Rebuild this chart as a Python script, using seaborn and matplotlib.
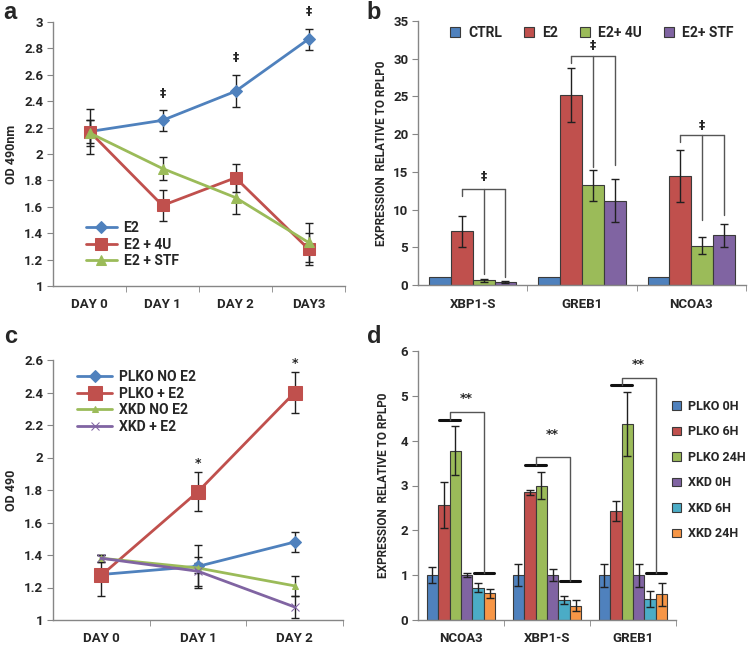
import pandas as pd
import matplotlib
matplotlib.use('Agg')
import matplotlib.pyplot as plt
import seaborn as sns

# ---- panel a: OD 490nm over days ----
days_a = ['DAY 0', 'DAY 1', 'DAY 2', 'DAY3']
e2_a = [2.17, 2.255, 2.475, 2.87]
e2_a_err = [0.17, 0.08, 0.12, 0.08]
e2_4u_a = [2.17, 1.61, 1.82, 1.28]
e2_4u_a_err = [0.09, 0.12, 0.105, 0.12]
e2_stf_a = [2.16, 1.89, 1.67, 1.33]
e2_stf_a_err = [0.1, 0.087, 0.125, 0.15]
sig_a_days = ['DAY 1', 'DAY 2', 'DAY3']
sig_a_y = [2.46, 2.73, 3.08]

# ---- panel b: expression relative to RPLP0 ----
genes_b = ['XBP1-S', 'GREB1', 'NCOA3']
groups_b = ['CTRL', 'E2', 'E2+ 4U', 'E2+ STF']
vals_b = {
    'CTRL': [1, 1, 1],
    'E2': [7.1, 25.2, 14.5],
    'E2+ 4U': [0.6, 13.2, 5.2],
    'E2+ STF': [0.4, 11.2, 6.6],
}
errs_b = {
    'CTRL': [0, 0, 0],
    'E2': [2.05, 3.6, 3.45],
    'E2+ 4U': [0.25, 2.1, 1.12],
    'E2+ STF': [0.12, 2.8, 1.5],
}
brk_b_top = [12.7, 30.3, 19.9]
brk_b_left = [11.8, 29.4, 19.0]
brk_b_mid = [1.5, 15.7, 8.6]
brk_b_right = [1.0, 15.9, 9.3]
sig_b_y = [14.4, 31.7, 21.2]

# ---- panel c: OD 490 over days ----
days_c = ['DAY 0', 'DAY 1', 'DAY 2']
plko_no = [1.28, 1.33, 1.48]
plko_no_err = [0.02, 0.13, 0.06]
plko_e2 = [1.275, 1.79, 2.40]
plko_e2_err = [0.125, 0.12, 0.125]
xkd_no = [1.38, 1.32, 1.21]
xkd_no_err = [0.02, 0.03, 0.06]
xkd_e2 = [1.38, 1.30, 1.08]
xkd_e2_err = [0.02, 0.09, 0.065]
sig_c_days = ['DAY 1', 'DAY 2']
sig_c_y = [1.96, 2.58]

# ---- panel d: expression relative to RPLP0 ----
genes_d = ['NCOA3', 'XBP1-S', 'GREB1']
groups_d = ['PLKO 0H', 'PLKO 6H', 'PLKO 24H', 'XKD 0H', 'XKD 6H', 'XKD 24H']
vals_d = {
    'PLKO 0H': [1, 1, 1],
    'PLKO 6H': [2.57, 2.85, 2.43],
    'PLKO 24H': [3.78, 3.0, 4.37],
    'XKD 0H': [1, 1, 1],
    'XKD 6H': [0.72, 0.45, 0.47],
    'XKD 24H': [0.6, 0.32, 0.57],
}
errs_d = {
    'PLKO 0H': [0.18, 0.25, 0.26],
    'PLKO 6H': [0.51, 0.06, 0.22],
    'PLKO 24H': [0.54, 0.3, 0.72],
    'XKD 0H': [0.04, 0.13, 0.26],
    'XKD 6H': [0.1, 0.09, 0.18],
    'XKD 24H': [0.1, 0.13, 0.26],
}
brk_d_left = [4.47, 3.46, 5.24]
brk_d_top = [4.65, 3.64, 5.40]
brk_d_right = [1.05, 0.86, 1.05]
sig_d_y = [4.95, 4.13, 5.69]

blue, red, green, purple, cyan, orange = ('#4F81BD', '#C0504D', '#9BBB59',
                                          '#8064A2', '#4BACC6', '#F79646')

sns.set_style('white')
plt.rcParams['font.family'] = ['Roboto', 'DejaVu Sans']
plt.rcParams['font.weight'] = 'bold'
plt.rcParams['axes.labelweight'] = 'bold'

W, H = 748, 646
fig = plt.figure(figsize=(W / 100, H / 100), dpi=100)


def px_axes(left, top, right, bottom):
    return fig.add_axes([left / W, 1 - bottom / H, (right - left) / W,
                         (bottom - top) / H])


def style_axes(ax, n):
    for s in ['top', 'right']:
        ax.spines[s].set_visible(False)
    for s in ['left', 'bottom']:
        ax.spines[s].set_color('#868686')
        ax.spines[s].set_linewidth(1)
    ax.set_xlim(-0.5, n - 0.5)
    ax.set_xticks(range(n))
    ax.set_xticks([i + 0.5 for i in range(n)], minor=True)
    ax.tick_params(axis='x', which='major', length=0, pad=9, labelsize=9.5)
    ax.tick_params(axis='x', which='minor', length=4, color='#868686',
                   direction='out', bottom=True)
    ax.tick_params(axis='y', length=4, color='#868686', direction='out',
                   left=True, labelsize=9.5, pad=3)
    ax.set_xlabel('')


def line_panel(ax, days, series, sig_days, sig_y, sig_char):
    for vals, errs, color, marker, ms, lab in series:
        sns.lineplot(x=days, y=vals, ax=ax, color=color, marker=marker,
                     markersize=ms, markeredgecolor=color, linewidth=2,
                     label=lab, sort=False)
        ax.errorbar(days, vals, yerr=errs, fmt='none', ecolor='#202020',
                    elinewidth=1, capsize=3, capthick=1, zorder=1)
    for d, y in zip(sig_days, sig_y):
        ax.text(days.index(d), y, sig_char, ha='center', va='center',
                fontsize=9, family='DejaVu Sans', fontweight='bold',
                clip_on=False)


# panel a
ax = px_axes(53, 22, 345, 286)
line_panel(ax, days_a, [
    (e2_a, e2_a_err, blue, 'D', 6, 'E2'),
    (e2_4u_a, e2_4u_a_err, red, 's', 9, 'E2 + 4U'),
    (e2_stf_a, e2_stf_a_err, green, '^', 7, 'E2 + STF'),
], sig_a_days, sig_a_y, '‡')
style_axes(ax, len(days_a))
ax.set_ylim(1, 3)
ax.set_yticks([1, 1.2, 1.4, 1.6, 1.8, 2, 2.2, 2.4, 2.6, 2.8, 3])
ax.set_yticklabels(['1', '1.2', '1.4', '1.6', '1.8', '2', '2.2', '2.4',
                    '2.6', '2.8', '3'])
ax.set_ylabel('OD 490nm', fontsize=9)
ax.yaxis.set_label_coords(-0.12, 0.5)
ax.legend(loc='lower left', bbox_to_anchor=(0.08, 0.03), frameon=False,
          fontsize=10, handlelength=2.2, labelspacing=0.2, borderpad=0.2,
          handletextpad=0.5)

# panel c
ax = px_axes(53, 360, 343, 620)
line_panel(ax, days_c, [
    (plko_no, plko_no_err, blue, 'D', 6, 'PLKO NO E2'),
    (plko_e2, plko_e2_err, red, 's', 10, 'PLKO + E2'),
    (xkd_no, xkd_no_err, green, '^', 5, 'XKD NO E2'),
    (xkd_e2, xkd_e2_err, purple, 'x', 6, 'XKD + E2'),
], sig_c_days, sig_c_y, '*')
style_axes(ax, len(days_c))
ax.set_ylim(1, 2.6)
ax.set_yticks([1, 1.2, 1.4, 1.6, 1.8, 2, 2.2, 2.4, 2.6])
ax.set_yticklabels(['1', '1.2', '1.4', '1.6', '1.8', '2', '2.2', '2.4',
                    '2.6'])
ax.set_ylabel('OD 490', fontsize=9)
ax.yaxis.set_label_coords(-0.12, 0.5)
ax.legend(loc='upper left', bbox_to_anchor=(0.05, 1.0), frameon=False,
          fontsize=10, handlelength=2.5, labelspacing=0.2, borderpad=0.2,
          handletextpad=0.5)


def bar_panel(ax, genes, groups, vals, errs, palette):
    df = pd.DataFrame({
        'gene': [g for _ in groups for g in genes],
        'group': [grp for grp in groups for _ in genes],
        'value': [v for grp in groups for v in vals[grp]],
    })
    sns.barplot(data=df, x='gene', y='value', hue='group', order=genes,
                hue_order=groups, palette=palette, edgecolor='#3a3a3a',
                linewidth=0.8, errorbar=None, ax=ax, saturation=1)
    centers = {}
    for grp, cont in zip(groups, ax.containers):
        xs = [b.get_x() + b.get_width() / 2 for b in cont]
        centers[grp] = (xs, cont[0].get_width())
        e = errs[grp]
        if any(e):
            ax.errorbar(xs, vals[grp], yerr=e, fmt='none', ecolor='#202020',
                        elinewidth=1, capsize=3, capthick=1, zorder=3)
    return centers


# panel b
ax = px_axes(418, 21, 746, 285)
cb = bar_panel(ax, genes_b, groups_b, vals_b, errs_b,
               [blue, red, green, purple])
for i in range(len(genes_b)):
    xl = cb['E2'][0][i]
    xm = cb['E2+ 4U'][0][i]
    xr = cb['E2+ STF'][0][i]
    top = brk_b_top[i]
    ax.plot([xl, xr], [top, top], color='#555555', lw=1)
    ax.plot([xl, xl], [top, brk_b_left[i]], color='#555555', lw=1)
    ax.plot([xm, xm], [top, brk_b_mid[i]], color='#555555', lw=1)
    ax.plot([xr, xr], [top, brk_b_right[i]], color='#555555', lw=1)
    ax.text(xm, sig_b_y[i], '‡', ha='center', va='center', fontsize=9,
            family='DejaVu Sans', fontweight='bold')
style_axes(ax, len(genes_b))
ax.set_ylim(0, 35)
ax.set_yticks(range(0, 36, 5))
ax.set_ylabel('EXPRESSION  RELATIVE TO RPLP0', fontsize=8.5)
ax.yaxis.set_label_coords(-0.092, 0.5)
h, l = ax.get_legend_handles_labels()
ax.legend(h, l, loc='upper center', bbox_to_anchor=(0.53, 1.03), ncol=4,
          frameon=False, fontsize=10, handlelength=0.7, handleheight=0.7,
          columnspacing=1.6, handletextpad=0.6)

# panel d
ax = px_axes(418, 351, 676, 620)
cd = bar_panel(ax, genes_d, groups_d, vals_d, errs_d,
               [blue, red, green, purple, cyan, orange])
for i in range(len(genes_d)):
    xs6, bw = cd['PLKO 6H']
    xs5, _ = cd['XKD 6H']
    xl = xs6[i] + bw / 2
    xr = xs5[i] + bw / 2
    hw = bw * 0.9
    ax.plot([xl - hw, xl + hw], [brk_d_left[i]] * 2, color='#111111', lw=2.2)
    ax.plot([xr - hw, xr + hw], [brk_d_right[i]] * 2, color='#111111', lw=2.2)
    ax.plot([xl, xl, xr, xr],
            [brk_d_left[i], brk_d_top[i], brk_d_top[i], brk_d_right[i]],
            color='#555555', lw=1)
    ax.text((xl + xr) / 2, sig_d_y[i], '**', ha='center', va='center',
            fontsize=9, family='DejaVu Sans', fontweight='bold')
style_axes(ax, len(genes_d))
ax.set_ylim(0, 6)
ax.set_yticks(range(0, 7))
ax.set_ylabel('EXPRESSION  RELATIVE TO RPLP0', fontsize=8.5)
ax.yaxis.set_label_coords(-0.108, 0.5)
h, l = ax.get_legend_handles_labels()
ax.legend(h, l, loc='upper left', bbox_to_anchor=(0.94, 0.86),
          frameon=False, fontsize=9, handlelength=0.7, handleheight=0.7,
          labelspacing=1.0, handletextpad=0.6)

# panel letters
for s, x, y in [('a', 3, 1), ('b', 366, 1), ('c', 4, 325), ('d', 367, 325)]:
    fig.text(x / W, 1 - y / H, s, ha='left', va='top', fontsize=17,
             family='Liberation Sans', fontweight='bold')

fig.savefig('out.png', dpi=100)
